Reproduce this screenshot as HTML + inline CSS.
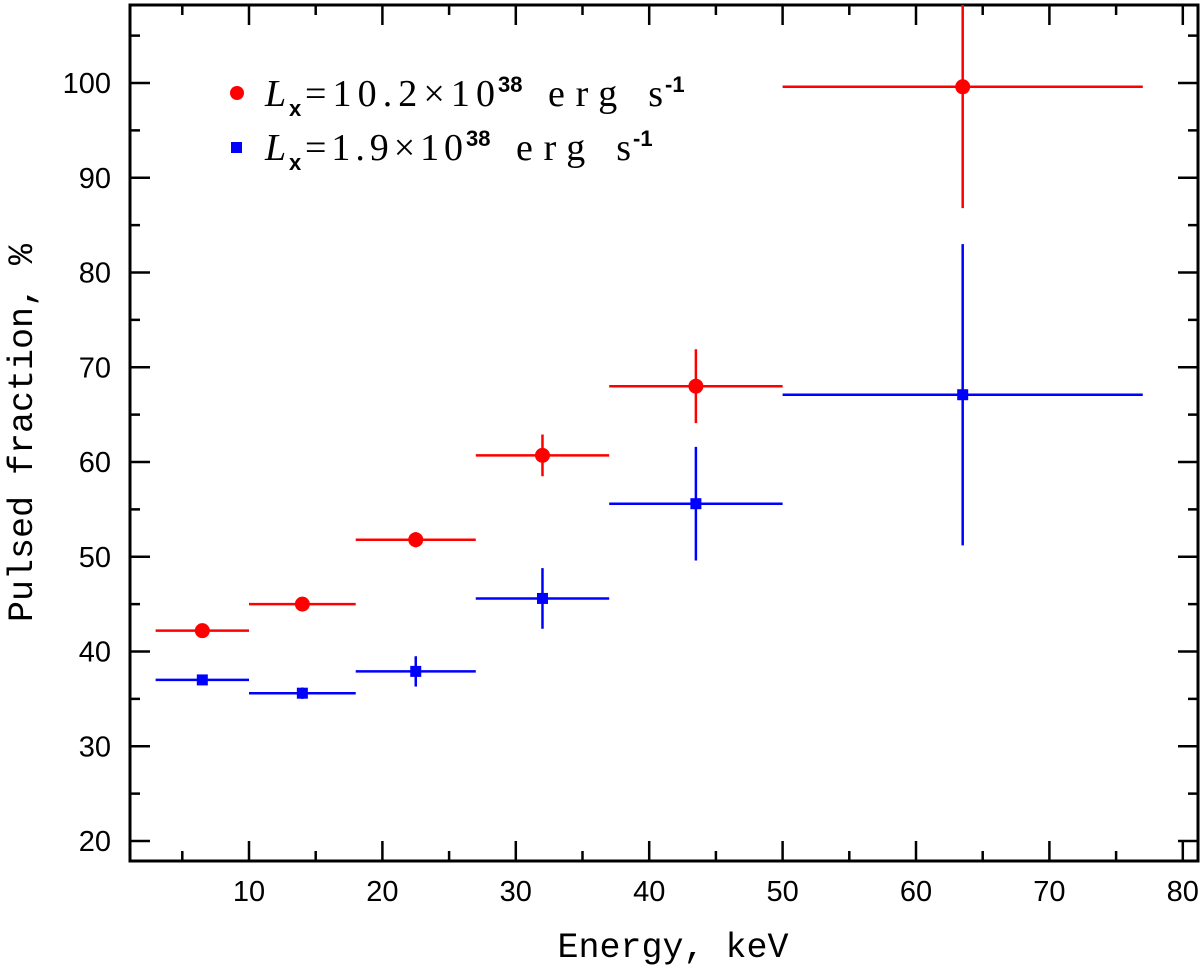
<!DOCTYPE html>
<html><head><meta charset="utf-8"><style>
body{margin:0;background:#fff}
svg{display:block}
text{font-family:"Liberation Sans",sans-serif;font-size:29px;fill:#000}
.lg{font-family:"Liberation Serif",serif;font-size:38px}
.sup{font-family:"Liberation Sans",sans-serif;font-size:22px;font-weight:bold}
.ttl{font-family:"Liberation Mono",monospace;font-size:35px}
</style></head><body>
<svg id="chart" width="1200" height="973">
<defs><clipPath id="pc"><rect x="130" y="5" width="1068" height="856"/></clipPath></defs>
<g id="axes"></g>
<g id="marks" clip-path="url(#pc)"></g>
<g id="legend">
<circle cx="237" cy="93" r="7" fill="#ff0000"/>
<g>
<text x="265" y="106" class="lg" font-style="italic">L</text>
<text x="289" y="116" class="sup">x</text>
<text x="305" y="106" class="lg" textLength="190" lengthAdjust="spacing">=10.2×10</text>
<text x="498" y="92" class="sup">38</text>
<text x="548" y="106" class="lg" textLength="115" lengthAdjust="spacing">erg  s</text>
<text x="665" y="92" class="sup">-1</text>
</g>
<rect x="231" y="142" width="11" height="11" fill="#0000ff"/>
<g>
<text x="265" y="160" class="lg" font-style="italic">L</text>
<text x="289" y="170" class="sup">x</text>
<text x="305" y="160" class="lg" textLength="158" lengthAdjust="spacing">=1.9×10</text>
<text x="466" y="146" class="sup">38</text>
<text x="516" y="160" class="lg" textLength="115" lengthAdjust="spacing">erg  s</text>
<text x="633" y="146" class="sup">-1</text>
</g>
</g>
<text x="673" y="957" text-anchor="middle" class="ttl">Energy, keV</text>
<text transform="translate(32,433) rotate(-90)" text-anchor="middle" class="ttl">Pulsed fraction, %</text>
</svg>
<script>
const xTicks=[10,20,30,40,50,60,70,80];
const yTicks=[20,30,40,50,60,70,80,90,100];
const binLo=[3,10,18,27,37,50];
const binHi=[10,18,27,37,50,77];
const binMid=[6.5,14,22.5,32,43.5,63.5];
const redVals=[42.2,45.0,51.8,60.7,68.0,99.6];
const redErr=[0.3,0.4,0.8,2.2,3.9,12.8];
const blueVals=[37.0,35.6,37.9,45.6,55.6,67.1];
const blueErr=[0.4,0.6,1.6,3.2,6.0,15.9];
const L=130,R=1198,T=5,B=861;
function X(v){return 115.6+v*13.34;}
function Y(v){return 841-(v-20)*9.475;}
const NS="http://www.w3.org/2000/svg";
function mk(tag,attrs,parent){const e=document.createElementNS(NS,tag);for(const k in attrs)e.setAttribute(k,attrs[k]);parent.appendChild(e);return e;}
const ax=document.getElementById('axes');
const frame=mk('rect',{x:L,y:T,width:R-L,height:B-T,fill:'none',stroke:'#000','stroke-width':3},ax);


for(let v=5;v<=80;v+=5){const maj=v%10===0,len=maj?20:10,x=X(v);
 const t1=mk('line',{x1:x,x2:x,y1:B,y2:B-len,stroke:'#000','stroke-width':2.5},ax);
 
 
 const t2=mk('line',{x1:x,x2:x,y1:T,y2:T+len,stroke:'#000','stroke-width':2.5},ax);
 
 }
for(let v=20;v<=105;v+=5){const maj=v%10===0,len=maj?20:10,y=Y(v);
 const t1=mk('line',{x1:L,x2:L+len,y1:y,y2:y,stroke:'#000','stroke-width':2.5},ax);
 
 
 const t2=mk('line',{x1:R,x2:R-len,y1:y,y2:y,stroke:'#000','stroke-width':2.5},ax);
 
 }
xTicks.forEach(v=>{const t=mk('text',{x:X(v),y:901,'text-anchor':'middle'},ax);t.textContent=v;
 
 });
yTicks.forEach(v=>{const t=mk('text',{x:111,y:Y(v)+10,'text-anchor':'end'},ax);t.textContent=v;
 
 });
const mg=document.getElementById('marks');
function series(vals,errs,color,shape,name){
 vals.forEach((v,i)=>{
  const h=mk('line',{x1:X(binLo[i]),x2:X(binHi[i]),y1:Y(v),y2:Y(v),stroke:color,'stroke-width':2.5},mg);
  
  
  const e=mk('line',{x1:X(binMid[i]),x2:X(binMid[i]),y1:Y(v-errs[i]),y2:Y(v+errs[i]),stroke:color,'stroke-width':2.5},mg);
  
  
  let p;
  if(shape==='c')p=mk('circle',{cx:X(binMid[i]),cy:Y(v),r:7.5,fill:color},mg);
  else p=mk('rect',{x:X(binMid[i])-5.5,y:Y(v)-5.5,width:11,height:11,fill:color},mg);
  
  
 });
}
series(redVals,redErr,'#ff0000','c','red');
series(blueVals,blueErr,'#0000ff','s','blue');
</script>
</body></html>
